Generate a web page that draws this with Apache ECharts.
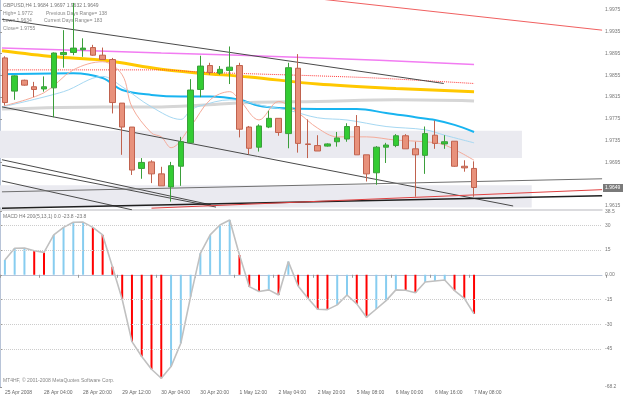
<!DOCTYPE html>
<html>
<head>
<meta charset="utf-8">
<script src="https://cdn.jsdelivr.net/npm/echarts@6/dist/echarts.min.js"></script>
<style>
  html, body { margin: 0; padding: 0; background: #fff; }
  #chart { width: 625px; height: 397px; }
</style>
</head>
<body>
<div id="chart"></div>
<script>
// GBPUSD H4 bars, 25 Apr 2008 .. 7 May 08:00
const opens  = [1.9887, 1.9826, 1.9846, 1.9834, 1.9830, 1.9832, 1.9893, 1.9897, 1.9902, 1.9906, 1.9892, 1.9884, 1.9804, 1.9760, 1.9684, 1.9696, 1.9674, 1.9650, 1.9688, 1.9731, 1.9829, 1.9873, 1.9859, 1.9864, 1.9873, 1.9760, 1.9723, 1.9760, 1.9776, 1.9748, 1.9868, 1.9729, 1.9726, 1.9725, 1.9733, 1.9738, 1.9761, 1.9709, 1.9676, 1.9723, 1.9726, 1.9744, 1.9720, 1.9708, 1.9745, 1.9729, 1.9734, 1.9688, 1.9684];
const closes = [1.9805, 1.9854, 1.9837, 1.9829, 1.9834, 1.9896, 1.9897, 1.9905, 1.9905, 1.9892, 1.9884, 1.9805, 1.9760, 1.9681, 1.9695, 1.9674, 1.9652, 1.9689, 1.9733, 1.9828, 1.9872, 1.9860, 1.9866, 1.9870, 1.9756, 1.9721, 1.9762, 1.9776, 1.9750, 1.9869, 1.9730, 1.9728, 1.9716, 1.9729, 1.9740, 1.9761, 1.9709, 1.9674, 1.9723, 1.9727, 1.9744, 1.9720, 1.9709, 1.9748, 1.9730, 1.9733, 1.9688, 1.9685, 1.9649];
const lows   = [1.9800, 1.9810, 1.9836, 1.9815, 1.9825, 1.9778, 1.9869, 1.9892, 1.9889, 1.9891, 1.9884, 1.9785, 1.9709, 1.9672, 1.9665, 1.9657, 1.9652, 1.9623, 1.9652, 1.9731, 1.9815, 1.9856, 1.9856, 1.9839, 1.9741, 1.9710, 1.9715, 1.9758, 1.9744, 1.9721, 1.9713, 1.9703, 1.9716, 1.9724, 1.9724, 1.9733, 1.9709, 1.9660, 1.9654, 1.9694, 1.9723, 1.9720, 1.9632, 1.9674, 1.9720, 1.9720, 1.9687, 1.9678, 1.9632];
const highs  = [1.9890, 1.9855, 1.9847, 1.9843, 1.9853, 1.9897, 1.9938, 1.9988, 1.9923, 1.9911, 1.9906, 1.9887, 1.9804, 1.9760, 1.9703, 1.9699, 1.9687, 1.9696, 1.9742, 1.9848, 1.9891, 1.9878, 1.9872, 1.9908, 1.9878, 1.9762, 1.9765, 1.9790, 1.9776, 1.9878, 1.9894, 1.9774, 1.9745, 1.9730, 1.9751, 1.9767, 1.9782, 1.9709, 1.9725, 1.9731, 1.9747, 1.9747, 1.9733, 1.9761, 1.9772, 1.9745, 1.9734, 1.9699, 1.9697];

// time labels, one every 4 bars
const timeLabels = ['25 Apr 2008', '28 Apr 04:00', '28 Apr 20:00', '29 Apr 12:00', '30 Apr 04:00', '30 Apr 20:00',
  '1 May 12:00', '2 May 04:00', '2 May 20:00', '5 May 08:00', '6 May 00:00', '6 May 16:00', '7 May 08:00'];

// MACD(5,13,1) main values
const macd = [9.0, 16.1, 16.3, 14.6, 13.6, 24.2, 28.8, 31.9, 32.0, 28.8, 24.2, 4.9, -14.9, -40.6, -49.7, -57.4, -62.9, -55.8, -41.6, -13.3,
  13.0, 24.2, 30.2, 33.3, 12.0, -7.2, -10.2, -9.2, -12.3, 8.0, -6.8, -14.3, -21.0, -21.2, -18.3, -12.3, -17.7, -25.8, -20.8, -15.7,
  -9.2, -9.4, -10.9, -4.4, -3.8, -3.2, -9.6, -14.3, -23.8];

// moving averages, [bar, price]
const maMagenta = [[-0.3, 1.9905], [16, 1.9896], [32, 1.9887], [48, 1.9875]];
const maGold = [[-0.3, 1.9900], [5, 1.9889], [10, 1.9883], [16, 1.9866], [20, 1.9859], [25, 1.9852], [32, 1.9839], [40, 1.9831], [48, 1.9825]];
const maRedDot = [[-0.3, 1.9865], [16, 1.9865], [20, 1.9861], [32, 1.9854], [38, 1.9850], [48, 1.9840]];
const maGrey = [[-0.3, 1.9793], [10, 1.9797], [16, 1.9797], [20, 1.9800], [25, 1.9805], [32, 1.9807], [40, 1.9810], [48, 1.9808]];
const maBlue = [[-0.3, 1.9857], [7, 1.9859], [10, 1.9850], [12, 1.9828], [15, 1.9819], [18, 1.9816], [21, 1.9816], [24, 1.9810], [26, 1.9799],
  [28, 1.9795], [32, 1.9793], [36, 1.9793], [39, 1.9786], [42, 1.9778], [44, 1.9773], [46, 1.9764], [48, 1.9751]];
const maLightBlue = [[-0.3, 1.9797], [6, 1.9825], [10, 1.9853], [12, 1.9834], [15, 1.9797], [18, 1.9774], [19, 1.9791], [20, 1.9799], [23, 1.9810],
  [27, 1.9797], [29, 1.9791], [32, 1.9777], [35, 1.9773], [39, 1.9761], [43, 1.9755], [45, 1.9745], [48, 1.9731]];
const maSalmon = [[-0.1, 1.9799], [4, 1.9823], [7, 1.9865], [10, 1.9880], [12, 1.9856], [13, 1.9797], [15, 1.9749], [16, 1.9742], [17, 1.9722],
  [19, 1.9761], [21, 1.9810], [23, 1.9825], [24, 1.9810], [26, 1.9773], [28, 1.9807], [30, 1.9786], [32, 1.9758], [34, 1.9742],
  [37, 1.9742], [40, 1.9736], [43, 1.9733], [45, 1.9727], [48, 1.9699]];

// trend lines, [bar, price]
const channelTop = [[-0.3, 1.9958], [44.9, 1.9840]];
const channelMid = [[-0.3, 1.9797], [52.0, 1.9615]];
const redTop = [[29.3, 2.0001], [61.1, 1.9938]];
const lowLineA = [[-0.3, 1.9700], [21.1, 1.9617]];
const lowLineB = [[-0.3, 1.9690], [21.6, 1.9613]];
const lowLineC = [[-0.3, 1.9661], [13.0, 1.9608]];
const riseGrey = [[-0.3, 1.9641], [61.1, 1.9665]];
const riseBlack = [[-0.3, 1.9611], [61.1, 1.9634]];
const riseRed = [[15.0, 1.9611], [61.1, 1.9645]];

// shaded zones, [bar from, bar to, price top, price bottom]
const zones = [[-0.5, 52.9, 1.9753, 1.9703], [-0.5, 53.9, 1.9653, 1.9612]];

const priceTicks = [1.9615, 1.9695, 1.9735, 1.9775, 1.9815, 1.9855, 1.9895, 1.9935, 1.9975];
const macdTicks = [38.5, 30, 15, 0, -15, -30, -45, -68.2];
const macdLevels = [30, 15, -15, -30, -45];

const P_MAX = 1.999337, P_MIN = 1.960763;
const NCAT = 62;
const cats = [];
for (let i = 0; i < NCAT; i++) cats.push(i % 4 === 0 && i / 4 < timeLabels.length ? timeLabels[i / 4] : '');

const FONT = 'Liberation Sans';
const candleData = opens.map((o, i) => [o, closes[i], lows[i], highs[i]]);

const overlayLine = (data, color, width, type, smooth) => ({
  type: 'line', xAxisIndex: 2, yAxisIndex: 1, data, symbol: 'none', silent: true,
  smooth: smooth ? 0.35 : false, z: 3,
  lineStyle: { color, width, type: type || 'solid' }
});

const chart = echarts.init(document.getElementById('chart'), null, { renderer: 'canvas' });
chart.setOption({
  animation: false,
  backgroundColor: '#ffffff',
  textStyle: { fontFamily: FONT },
  grid: [
    { left: 0, width: 602, top: 0, height: 210 },
    { left: -2.2, width: 608.2, top: 0, height: 210 },
    { left: 0, width: 602, top: 211.4, height: 175.6 },
    { left: -2.2, width: 608.2, top: 211.4, height: 175.6 }
  ],
  xAxis: [
    { gridIndex: 0, type: 'value', min: 0, max: 1, axisLine: { show: true, lineStyle: { color: '#cfcfd4', width: 1.5 } },
      axisTick: { show: false }, axisLabel: { show: false }, splitLine: { show: false } },
    { gridIndex: 1, type: 'category', data: cats, show: false },
    { gridIndex: 1, type: 'value', min: -0.5, max: 61.5, show: false },
    { gridIndex: 2, type: 'value', min: 0, max: 1, axisLine: { show: true, lineStyle: { color: '#b8c4d8' } },
      axisTick: { show: false }, axisLabel: { show: false }, splitLine: { show: false } },
    { gridIndex: 3, type: 'category', data: cats, axisLine: { show: false },
      axisTick: { show: true, interval: (i) => i % 4 === 0 && i <= 48, length: 3, lineStyle: { color: '#999' } },
      axisLabel: { interval: (i) => i % 4 === 0 && i <= 48, align: 'left', fontSize: 5, color: '#666', margin: 3, fontFamily: FONT } },
    { gridIndex: 3, type: 'value', min: -0.5, max: 61.5, show: false }
  ],
  yAxis: [
    { gridIndex: 0, type: 'value', position: 'right', min: P_MIN, max: P_MAX,
      axisLine: { show: true, lineStyle: { color: '#b8c4d8' } },
      axisTick: { show: true, customValues: priceTicks, length: 2, lineStyle: { color: '#999' } },
      axisLabel: { customValues: priceTicks, formatter: (v) => v.toFixed(4), fontSize: 5, color: '#777', margin: 3, fontFamily: FONT },
      splitLine: { show: false } },
    { gridIndex: 1, type: 'value', min: P_MIN, max: P_MAX, show: false },
    { gridIndex: 2, type: 'value', position: 'right', min: -68.2, max: 38.5,
      axisLine: { show: true, lineStyle: { color: '#b8c4d8' } },
      axisTick: { show: true, customValues: macdTicks, length: 2, lineStyle: { color: '#999' } },
      axisLabel: { customValues: macdTicks, formatter: (v) => (v === 0 ? '0.00' : String(v)), fontSize: 5, color: '#777', margin: 3, fontFamily: FONT },
      splitLine: { show: false } },
    { gridIndex: 3, type: 'value', min: -68.2, max: 38.5, show: false }
  ],
  series: [
    // shaded zones
    { type: 'line', xAxisIndex: 2, yAxisIndex: 1, data: [], z: 1, silent: true,
      markArea: { silent: true, itemStyle: { color: '#eaeaf0' },
        data: zones.map((z) => [{ coord: [z[0], z[2]] }, { coord: [z[1], z[3]] }]) } },
    overlayLine(maGrey, '#d6d6d6', 3, null, true),
    overlayLine(maMagenta, '#f27cf2', 1.5, null, true),
    overlayLine(maGold, '#ffc800', 3, null, true),
    overlayLine(maRedDot, '#ff3a3a', 1, 'dotted', true),
    overlayLine(maBlue, '#18b4f0', 2, null, true),
    overlayLine(maLightBlue, '#a6d8f2', 1, null, true),
    overlayLine(maSalmon, '#f5ab9a', 1, null, true),
    overlayLine(channelTop, '#4a4a4a', 1),
    overlayLine(channelMid, '#4a4a4a', 1),
    overlayLine(redTop, '#f06060', 1),
    overlayLine(lowLineA, '#4a4a4a', 1),
    overlayLine(lowLineB, '#4a4a4a', 1),
    overlayLine(lowLineC, '#4a4a4a', 1),
    overlayLine(riseGrey, '#707070', 1),
    overlayLine(riseBlack, '#202020', 1.5),
    overlayLine(riseRed, '#e04040', 1),
    {
      type: 'candlestick', xAxisIndex: 1, yAxisIndex: 1, data: candleData, barWidth: 6, z: 5,
      itemStyle: { color: '#33cc33', color0: '#e8917b', borderColor: '#3b9e3b', borderColor0: '#c0624e', borderWidth: 1 }
    },
    // MACD level lines
    { type: 'line', xAxisIndex: 3, yAxisIndex: 2, data: [], silent: true,
      markLine: { silent: true, symbol: 'none', label: { show: false },
        lineStyle: { color: '#cccccc', type: 'dotted', width: 1 },
        data: macdLevels.map((v) => ({ yAxis: v })) } },
    {
      type: 'bar', xAxisIndex: 4, yAxisIndex: 3, data: macd, barWidth: 2, z: 3,
      itemStyle: { color: (p) => (p.dataIndex === 0 || macd[p.dataIndex] >= macd[p.dataIndex - 1] ? '#87cdf0' : '#ff0000') }
    },
    {
      type: 'line', xAxisIndex: 4, yAxisIndex: 3, data: macd, symbol: 'none', z: 4,
      lineStyle: { color: '#c0c0c0', width: 1.6 }
    }
  ],
  graphic: [
    { type: 'text', left: 3, top: 3, style: { text: 'GBPUSD,H4 1.9684 1.9697 1.9632 1.9649', fontSize: 5, fill: '#777', fontFamily: FONT } },
    { type: 'text', left: 3, top: 11, style: { text: 'High= 1.9772', fontSize: 5, fill: '#888', fontFamily: FONT } },
    { type: 'text', left: 46, top: 11, style: { text: 'Previous Days Range= 138', fontSize: 5, fill: '#888', fontFamily: FONT } },
    { type: 'text', left: 3, top: 18, style: { text: 'Low= 1.9634', fontSize: 5, fill: '#888', fontFamily: FONT } },
    { type: 'text', left: 44, top: 18, style: { text: 'Current Days Range= 183', fontSize: 5, fill: '#888', fontFamily: FONT } },
    { type: 'text', left: 3, top: 26, style: { text: 'Close= 1.9755', fontSize: 5, fill: '#888', fontFamily: FONT } },
    { type: 'text', left: 3, top: 214, style: { text: 'MACD H4 200(5,13,1) 0.0 -23.8 -23.8', fontSize: 5, fill: '#777', fontFamily: FONT } },
    { type: 'text', left: 3, top: 378, style: { text: 'MT4HF, \u00a9 2001-2008 MetaQuotes Software Corp.', fontSize: 5, fill: '#888', fontFamily: FONT } },
    { type: 'rect', left: 603, top: 184, z: 100, shape: { width: 20, height: 8 }, style: { fill: '#7a7a7a' } },
    { type: 'text', left: 605, top: 185.5, z: 101, style: { text: '1.9649', fontSize: 5, fill: '#fff', fontFamily: FONT } }
  ]
});
</script>
</body>
</html>
